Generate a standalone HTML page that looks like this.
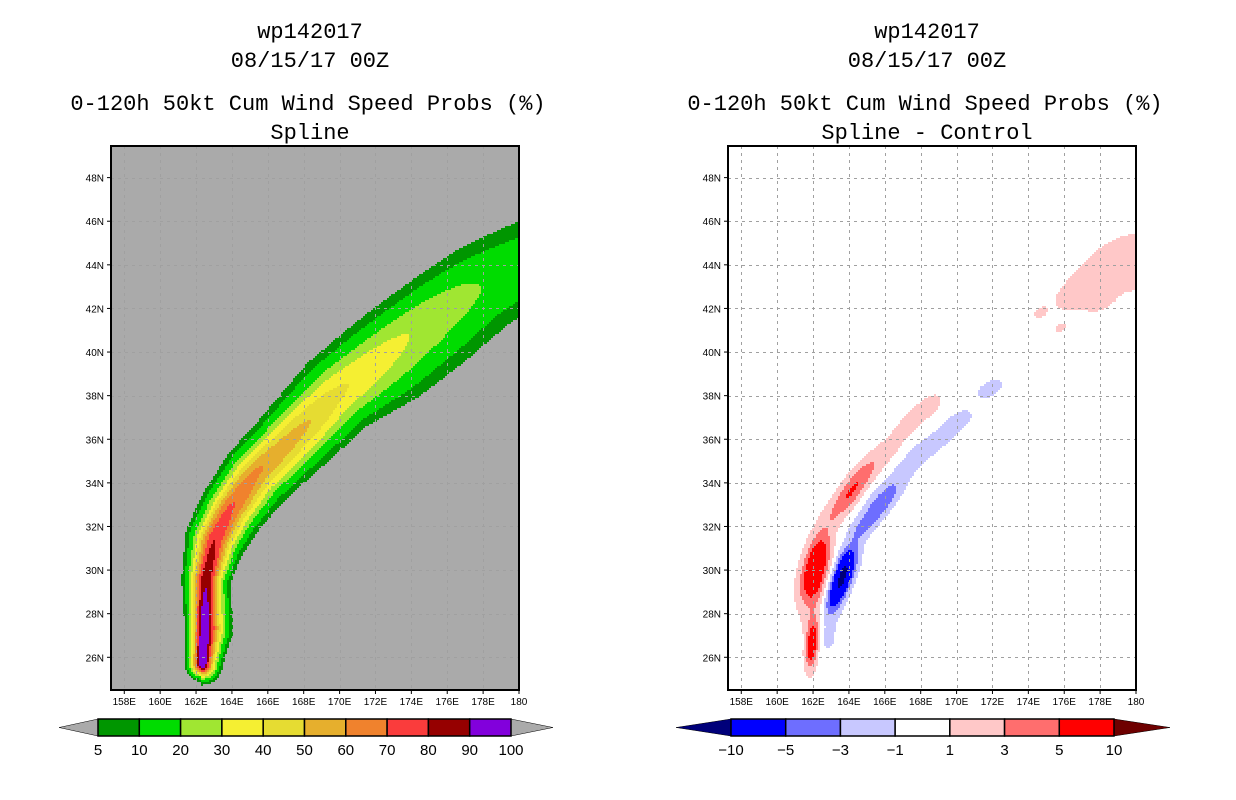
<!DOCTYPE html>
<html><head><meta charset="utf-8">
<style>
html,body{margin:0;padding:0;background:#fff;}
svg{display:block;}
text{font-family:"Liberation Mono","DejaVu Sans Mono",monospace;fill:#000;}
.tk{font-family:"Liberation Sans",sans-serif;font-size:10px;}
.cb{font-family:"Liberation Sans",sans-serif;font-size:15px;}
</style></head>
<body>
<svg id="root" width="1236" height="800" viewBox="0 0 1236 800" xmlns="http://www.w3.org/2000/svg">
  <g font-size="22" text-anchor="middle">
    <text x="310" y="38">wp142017</text>
    <text x="310" y="67">08/15/17 00Z</text>
    <text x="308" y="110">0-120h 50kt Cum Wind Speed Probs (%)</text>
    <text x="310" y="139">Spline</text>
  </g>
  <g font-size="22" text-anchor="middle">
    <text x="927" y="38">wp142017</text>
    <text x="927" y="67">08/15/17 00Z</text>
    <text x="925" y="110">0-120h 50kt Cum Wind Speed Probs (%)</text>
    <text x="927" y="139">Spline - Control</text>
  </g>
  <g id="leftMap"></g>
  <g id="rightMap"></g>
  <g id="leftBar"></g>
  <g id="rightBar"></g>
</svg>
<script>
// ---- Left panel data: track with peak probability and spread (NW / SE side) ----
const trackLon = [162.33, 162.44, 162.55, 163.05, 163.89, 165.28, 166.68, 168.35, 169.86, 172.64, 175.43, 177.83, 180.0, 182.3];
const trackLat = [25.68, 27.29, 29.58, 31.42, 32.8, 34.41, 35.5, 36.85, 38.1, 40.0, 41.8, 43.05, 43.9, 44.7];
const trackPeak = [100, 100, 88, 80, 72, 62, 56, 50, 42, 33, 26, 20, 17, 16];
const trackWidthNW = [0.5, 0.55, 0.72, 0.9, 0.95, 1.05, 1.15, 1.3, 1.45, 1.55, 1.6, 1.8, 1.9, 1.9];
const trackWidthSE = [0.6, 0.85, 0.72, 0.95, 1.1, 1.25, 1.3, 1.4, 1.5, 2.0, 2.15, 2.05, 1.95, 1.95];
const probLevels = [5, 10, 20, 30, 40, 50, 60, 70, 80, 90, 100];
const probColors = ["#009600","#00dc00","#a0e632","#f5ef32","#e6dc32","#e6af2d","#f0822d","#fa3c3c","#960000","#8200dc"];

// ---- Right panel data: difference blobs ----
const blobLon = [161.94,162.1,164.2,163.6,165.6,
  161.94,162.16,162.39,162.94,163.78,164.62,165.45,166.29,167.12,167.96,168.68,
  162.83,163.05,163.95,164.62,165.45,166.29,167.12,167.96,168.8,169.63,170.36,171.58,172.14,
  178.55,177.4,176.3,178.0,179.7,174.65,175.8,180.2];
const blobLat = [26.55,30.0,33.65,29.6,32.75,
  27.56,28.71,31.23,32.38,33.29,34.21,34.9,35.59,36.5,37.19,37.65,
  26.87,28.25,30.54,31.92,33.06,33.75,34.67,35.36,35.82,36.5,36.96,38.2,38.43,
  44.3,43.4,42.5,42.5,44.8,41.8,41.1,43.5];
const blobAmp = [7.5,9,3.6,-11,-3.6,
  1.5,1.5,1.5,1.5,1.5,1.5,1.5,1.5,1.5,1.5,1.4,
  -1.5,-1.5,-1.5,-1.5,-1.5,-1.5,-1.5,-1.5,-1.5,-1.5,-1.4,-1.35,-1.35,
  1.8,1.8,1.6,1.7,1.7,1.4,1.3,1.8];
const blobAlong = [1.15,1.5,1.6,1.4,1.6,
  0.8,0.8,0.8,0.8,0.8,0.8,0.8,0.8,0.8,0.8,0.7,
  0.8,0.8,0.8,0.8,0.8,0.8,0.8,0.8,0.8,0.8,0.7,0.6,0.6,
  1.1,1.1,1.0,1.1,1.0,0.5,0.45,1.1];
const blobAcross = [0.3,0.6,0.5,0.45,0.45,
  0.55,0.55,0.55,0.55,0.55,0.55,0.55,0.55,0.5,0.5,0.45,
  0.5,0.5,0.55,0.55,0.55,0.55,0.55,0.5,0.5,0.5,0.45,0.4,0.4,
  0.8,0.8,0.7,0.8,0.7,0.35,0.3,0.8];
const blobAngle = [85,75,55,70,50,
  85,85,75,60,55,50,50,50,45,45,45,
  80,75,65,60,55,50,45,45,40,40,40,35,35,
  30,30,30,30,30,30,30,30];
const diffLevels = [-10,-5,-3,-1,1,3,5,10];
const diffColors = ["#00007a","#0000ff","#6e6eff","#c8c8ff","#ffffff","#ffc8c8","#ff6e6e","#ff0000","#6e0000"];
const lonTicks = [158,160,162,164,166,168,170,172,174,176,178,180];
const latTicks = [26,28,30,32,34,36,38,40,42,44,46,48];

const NS = "http://www.w3.org/2000/svg";
function mk(tag, attrs, parent){const e=document.createElementNS(NS,tag);for(const k in attrs)e.setAttribute(k,attrs[k]);parent.appendChild(e);return e;}

const MAP_W=408, MAP_H=544, MAP_Y=146, LON0=157.26, LON1=180, LAT0=24.5, LAT1=49.45;
function xScale(x0,lon){return x0+(lon-LON0)/(LON1-LON0)*MAP_W;}
function yScale(lat){return MAP_Y+MAP_H-(lat-LAT0)/(LAT1-LAT0)*MAP_H;}

function probField(px,py,x0){
  let best=0;
  for(let i=0;i<trackLon.length-1;i++){
    const ax=xScale(x0,trackLon[i]),ay=yScale(trackLat[i]),bx=xScale(x0,trackLon[i+1]),by=yScale(trackLat[i+1]);
    const dx=bx-ax,dy=by-ay,L=dx*dx+dy*dy;
    let t=((px-ax)*dx+(py-ay)*dy)/L; t=Math.max(0,Math.min(1,t));
    const cx=ax+t*dx,cy=ay+t*dy;
    const d=Math.hypot(px-cx,py-cy)/20;
    const cross=dx*(py-ay)-dy*(px-ax);
    const pk=trackPeak[i]+t*(trackPeak[i+1]-trackPeak[i]);
    const wa=cross<0?trackWidthNW:trackWidthSE;
    const w=wa[i]+t*(wa[i+1]-wa[i]);
    const v=pk*Math.exp(-(d/w)*(d/w));
    if(v>best)best=v;
  }
  return best;
}
function diffField(px,py,x0){
  let s=0;
  for(let i=0;i<blobLon.length;i++){
    const bx=xScale(x0,blobLon[i]),by=yScale(blobLat[i]);
    const dx=(px-bx)/20,dy=(py-by)/20;
    const a=blobAngle[i]*Math.PI/180;
    const u=dx*Math.cos(a)-dy*Math.sin(a), v=dx*Math.sin(a)+dy*Math.cos(a);
    const su=blobAlong[i], sv=blobAcross[i];
    s+=blobAmp[i]*Math.exp(-(u*u)/(su*su)-(v*v)/(sv*sv));
  }
  return s;
}
function probClass(v){for(let k=probLevels.length-2;k>=0;k--){if(v>=probLevels[k])return k;}return -1;}
function diffClass(v){let k=0;while(k<diffLevels.length&&v>=diffLevels[k])k++;return k;}

function drawMap(g,x0,bg,field,classify,colors,skip,name){
  const rc=mk("rect",{x:x0,y:MAP_Y,width:MAP_W,height:MAP_H,fill:bg},g);
  
  
  const cells=mk("g",{"shape-rendering":"crispEdges"},g);
  
  
  const S=2;
  for(let y=MAP_Y;y<MAP_Y+MAP_H;y+=S){
    let runStart=null,runCls=null;
    for(let x=x0;x<=x0+MAP_W;x+=S){
      let cls=null;
      if(x<x0+MAP_W){const c=classify(field(x+S/2,y+S/2,x0));cls=(c===skip||c<0)?null:c;}
      if(cls!==runCls){
        if(runCls!==null){
          const r=mk("rect",{x:runStart,y:y,width:x-runStart,height:S,fill:colors[runCls]},cells);
          
          
        }
        runStart=x;runCls=cls;
      }
    }
  }
  const grid=mk("g",{stroke:"#a0a0a0","stroke-width":1,"stroke-dasharray":"3,4",fill:"none"},g);
  
  
  lonTicks.forEach(l=>{if(l<180){const x=Math.round(xScale(x0,l))+0.5;mk("line",{x1:x,x2:x,y1:MAP_Y,y2:MAP_Y+MAP_H},grid);}});
  latTicks.forEach(l=>{const y=Math.round(yScale(l))+0.5;mk("line",{x1:x0,x2:x0+MAP_W,y1:y,y2:y},grid);});
  const fr=mk("rect",{x:x0,y:MAP_Y,width:MAP_W,height:MAP_H,fill:"none",stroke:"#000","stroke-width":2},g);
  
  
  lonTicks.forEach(l=>{
    const x=xScale(x0,l);
    mk("line",{x1:x,x2:x,y1:MAP_Y+MAP_H,y2:MAP_Y+MAP_H+4,stroke:"#000"},g);
    const t=mk("text",{x:x,y:MAP_Y+MAP_H+15,"text-anchor":"middle",class:"tk"},g);
    t.textContent=l===180?"180":l+"E";
    
    
  });
  latTicks.forEach(l=>{
    const y=yScale(l);
    mk("line",{x1:x0-4,x2:x0,y1:y,y2:y,stroke:"#000"},g);
    const t=mk("text",{x:x0-7,y:y+4,"text-anchor":"end",class:"tk"},g);
    t.textContent=l+"N";
    
    
  });
}
drawMap(document.getElementById("leftMap"),111,"#aaaaaa",probField,probClass,probColors,-1,"left-map");
drawMap(document.getElementById("rightMap"),728,"#ffffff",diffField,diffClass,diffColors,4,"right-map");

function drawBar(g,x0,x1,tipL,tipR,labels,boxColors,tipColL,tipColR,name){
  const y0=719,y1=736,ym=(y0+y1)/2,n=boxColors.length,w=(x1-x0)/n;
  const pl=mk("polygon",{points:`${tipL},${ym} ${x0},${y0} ${x0},${y1}`,fill:tipColL,stroke:"#000","stroke-width":0.5},g);
  
  const pr=mk("polygon",{points:`${tipR},${ym} ${x1},${y0} ${x1},${y1}`,fill:tipColR,stroke:"#000","stroke-width":0.5},g);
  
  boxColors.forEach((c,i)=>{
    const r=mk("rect",{x:x0+i*w,y:y0,width:w,height:y1-y0,fill:c,stroke:"#000","stroke-width":1.5},g);
    
  });
  labels.forEach((l,i)=>{
    const t=mk("text",{x:x0+i*w,y:755,"text-anchor":"middle",class:"cb"},g);
    t.textContent=String(l).replace("-","\u2212");
    
  });
}
drawBar(document.getElementById("leftBar"),98,511,59,553,probLevels,probColors,"#aaaaaa","#aaaaaa","left-colorbar");
drawBar(document.getElementById("rightBar"),731,1114,676,1170,diffLevels,diffColors.slice(1,8),diffColors[0],diffColors[8],"right-colorbar");
</script>
</body></html>
